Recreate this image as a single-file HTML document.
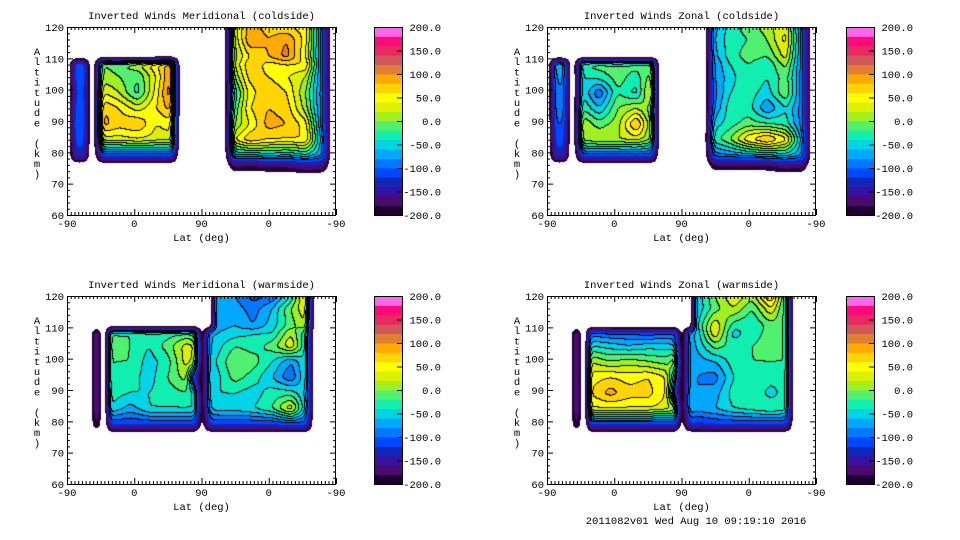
<!DOCTYPE html>
<html><head><meta charset="utf-8">
<style>
html,body{margin:0;padding:0;background:#fff;}
#wrap{position:relative;width:960px;height:540px;overflow:hidden;background:#fff;}
canvas{position:absolute;}
svg{position:absolute;left:0;top:0;}
text{font-family:"Liberation Mono","DejaVu Sans Mono",monospace;font-size:10.5px;fill:#000;}
</style></head>
<body>
<div id="wrap">
<canvas id="c0" width="269" height="188" style="left:67px;top:27px"></canvas>
<canvas id="c1" width="269" height="188" style="left:547px;top:27px"></canvas>
<canvas id="c2" width="269" height="188" style="left:67px;top:296px"></canvas>
<canvas id="c3" width="269" height="188" style="left:547px;top:296px"></canvas>
<svg id="axes" width="960" height="540"></svg>
</div>
<script>
const N = null;
const ALTS = [120,116,110.5,108,104,99,94,89,84,79,76,72];
const COLS_TOP = [2,12,22,32,36,48,70,95,120,140,150,211,224,245,270,295,320,342,354];
const COLS_BOT = [30,40,48,52,58,85,110,135,160,172,180,192,200,225,250,275,300,320,330];
const BAND_COLORS = ["#1e0030","#4c0a6e","#3a10a0","#1426b4","#0048ff","#0078ff","#00a8ff","#00d4e6","#10eeb0","#50f070","#a0f020","#dcf000","#ffff00","#ffd400","#ffaa00","#e08030","#d05858","#e82a62","#ff0a78","#ff66f0"];
const CBAR_LABELS = ["200.0","150.0","100.0","50.0","0.0","-50.0","-100.0","-150.0","-200.0"];
const Y_TICKS = [120,110,100,90,80,70,60];
const X_TICK_LABELS = ["-90","0","90","0","-90"];

const merCold = [
[N,N,N,N,N,N,N,N,N,N,N,N, 30,90,70,60,50,-90,N],
[N,N,N,N,N,N,N,N,N,N,N,N, 20,100,80,100,50,-90,N],
[N,N,N,N,N,N,N,N,N,N,N,N, 10,60,80,110,40,-90,N],
[N,-100,-100,N,N,0,-10,20,60,100,N,N, 20,80,50,60,60,-90,N],
[N,-110,-100,N,N,10,0,-20,40,110,N,N, 0,70,60,40,20,-90,N],
[N,-120,-110,N,N,40,20,-30,50,120,N,N, -40,50,80,60,0,-90,N],
[N,-110,-100,N,N,80,60,30,60,90,N,N, -20,60,80,70,10,-90,N],
[N,-100,-100,N,N,90,70,80,40,50,N,N, 0,40,90,80,50,-90,N],
[N,-110,-110,N,N,30,30,40,30,30,N,N, 40,80,60,60,60,-70,N],
[N,-130,-130,N,N,-110,-110,-110,-110,-110,N,N, -60,-60,-50,-60,-40,-80,N],
[N,N,N,N,N,N,N,N,N,N,N,N, -170,-180,-170,-170,-150,-160,N],
[N,N,N,N,N,N,N,N,N,N,N,N, N,N,N,N,N,N,N]];

const zonCold = [
[N,N,N,N,N,N,N,N,N,N,N,N, -70,-30,-10,10,40,-90,N],
[N,N,N,N,N,N,N,N,N,N,N,N, -60,-30,-20,0,50,-90,N],
[N,N,N,N,N,N,N,N,N,N,N,N, -70,-30,-10,-20,30,-90,N],
[N,-60,-60,N,N,-20,-10,-20,-10,-10,N,N, -80,-40,-20,-40,10,-90,N],
[N,-80,-70,N,N,-40,-30,-10,-30,10,N,N, -80,-50,-20,-40,-10,-90,N],
[N,-90,-80,N,N,-40,-100,-20,-50,40,N,N, -90,-40,-30,-50,0,-90,N],
[N,-90,-80,N,N,-20,-60,0,20,-10,N,N, -80,-30,-30,-80,-40,-90,N],
[N,-100,-100,N,N,20,-10,10,90,0,N,N, -50,-30,-10,-20,-30,-90,N],
[N,-110,-110,N,N,10,20,20,30,0,N,N, -30,0,60,90,50,-70,N],
[N,-130,-130,N,N,-110,-110,-110,-110,-110,N,N, -90,-80,-70,-60,-50,-80,N],
[N,N,N,N,N,N,N,N,N,N,N,N, -180,-180,-180,-180,-160,-170,N],
[N,N,N,N,N,N,N,N,N,N,N,N, N,N,N,N,N,N,N]];

const merWarm = [
[N,N,N,N,N,N,N,N,N,N,N,N, -60,-80,-110,-100,-40,60,N],
[N,N,N,N,N,N,N,N,N,N,N,N, -60,-70,-90,-60,0,40,N],
[N,N,N,N,N,N,N,N,N,N,N,N, -70,-60,-80,-50,-10,20,N],
[N,-150,N,N,-20,-20,-30,-30,-20,-30,N,-60, -60,-50,-40,-40,20,-40,N],
[N,-150,N,N,-10,-20,-40,-10,30,20,N,-60, -50,-20,-30,-10,40,-40,N],
[N,-150,N,N,-20,-20,-50,-30,30,10,N,-50, -40,0,-10,-40,-80,-40,N],
[N,-150,N,N,-20,-30,-50,-20,10,-150,N,-40, -50,-10,-30,-60,-100,-40,N],
[N,-150,N,N,-30,-40,-40,-30,-20,-50,N,-50, -40,-40,-50,-30,-30,-60,N],
[N,-150,N,N,-40,-70,-40,-40,-40,-40,N,-60, -50,-50,-40,-20,40,-60,N],
[N,-170,N,N,-120,-120,-120,-120,-120,-120,N,-120, -120,-120,-120,-120,-110,-110,N],
[N,N,N,N,N,N,N,N,N,N,N,N, N,N,N,N,N,N,N],
[N,N,N,N,N,N,N,N,N,N,N,N, N,N,N,N,N,N,N]];

const zonWarm = [
[N,N,N,N,N,N,N,N,N,N,N,N, -60,0,40,10,90,-30,N],
[N,N,N,N,N,N,N,N,N,N,N,N, -60,-10,20,-20,40,-30,N],
[N,N,N,N,N,N,N,N,N,N,N,N, -50,40,-30,-40,-10,-20,N],
[N,-150,N,N,-90,-100,-100,-110,-100,-100,N,-60, -60,40,-50,-30,-10,-20,N],
[N,-150,N,N,-40,-50,-60,-50,-50,-60,N,-70, -60,-10,-30,-20,-10,-20,N],
[N,-150,N,N,20,0,10,0,-10,20,N,-70, -70,-60,-30,-20,-20,-20,N],
[N,-150,N,N,50,60,50,60,40,-60,N,-70, -80,-90,-40,-30,-30,-30,N],
[N,-150,N,N,60,90,70,70,40,-120,N,-60, -80,-70,-30,-20,-50,-30,N],
[N,-150,N,N,40,40,40,40,30,20,N,-60, -70,-60,-40,-30,-20,-30,N],
[N,-170,N,N,-120,-120,-120,-120,-120,-120,N,-120, -130,-120,-120,-120,-120,-120,N],
[N,N,N,N,N,N,N,N,N,N,N,N, N,N,N,N,N,N,N],
[N,N,N,N,N,N,N,N,N,N,N,N, N,N,N,N,N,N,N]];

const NULLV = -225;
function seg(arr, v, desc){
  const n=arr.length;
  for(let i=0;i<n-1;i++){
    const a=arr[i], b=arr[i+1];
    if(desc ? (v<=a && v>=b) : (v>=a && v<=b)) return [i,(v-a)/(b-a)];
  }
  return desc ? (v>arr[0]?[0,0]:[n-2,1]) : (v<arr[0]?[0,0]:[n-2,1]);
}
function g(grid,j,i){const v=grid[j][i];return v===null?NULLV:v;}
function valueAt(cols,grid,pos,alt){
  if(alt<ALTS[ALTS.length-1]) return NULLV;
  const [j,t]=seg(ALTS,alt,true);
  const [i,s]=seg(cols,pos,false);
  const a=g(grid,j,i)*(1-s)+g(grid,j,i+1)*s;
  const b=g(grid,j+1,i)*(1-s)+g(grid,j+1,i+1)*s;
  return a*(1-t)+b*t;
}
function blur(f,W,H,r){
  const o=new Float32Array(W*H);
  for(let y=0;y<H;y++)for(let x=0;x<W;x++){
    let s=0,c=0;for(let k=-r;k<=r;k++){const xx=x+k;if(xx>=0&&xx<W){s+=f[y*W+xx];c++;}}
    o[y*W+x]=s/c;}
  const o2=new Float32Array(W*H);
  for(let y=0;y<H;y++)for(let x=0;x<W;x++){
    let s=0,c=0;for(let k=-r;k<=r;k++){const yy=y+k;if(yy>=0&&yy<H){s+=o[yy*W+x];c++;}}
    o2[y*W+x]=s/c;}
  return o2;
}
function hex(c){return [parseInt(c.substr(1,2),16),parseInt(c.substr(3,2),16),parseInt(c.substr(5,2),16)];}
const RGB = BAND_COLORS.map(hex);
function drawPanel(id,cols,grid){
  const cv=document.getElementById(id), ctx=cv.getContext('2d');
  const W=cv.width,H=cv.height;
  let f=new Float32Array(W*H);
  for(let y=0;y<H;y++)for(let x=0;x<W;x++){
    const pos=(x+0.5)*360/W, alt=120-(y+0.5)*60/H;
    f[y*W+x]=valueAt(cols,grid,pos,alt);
  }
  f=blur(blur(f,W,H,2),W,H,2);
  const band=new Int16Array(W*H);
  for(let k=0;k<W*H;k++){const v=f[k];band[k]= v<-200 ? -1 : Math.max(0,Math.min(19,Math.floor((v+200)/20)));}
  const img=ctx.createImageData(W,H);
  for(let y=0;y<H;y++)for(let x=0;x<W;x++){
    const k=y*W+x, b=band[k]; let c;
    if(b<0) c=[255,255,255];
    else {
      const r=x<W-1?band[k+1]:b, d=y<H-1?band[k+W]:b;
      const lr=(r>=0&&r!==b&&Math.min(r,b)>=4), ld=(d>=0&&d!==b&&Math.min(d,b)>=4);
      if(lr||ld) c=[0,0,0]; else c=RGB[b];
    }
    img.data[k*4]=c[0];img.data[k*4+1]=c[1];img.data[k*4+2]=c[2];img.data[k*4+3]=255;
  }
  ctx.putImageData(img,0,0);
}
drawPanel('c0',COLS_TOP,merCold);
drawPanel('c1',COLS_TOP,zonCold);
drawPanel('c2',COLS_BOT,merWarm);
drawPanel('c3',COLS_BOT,zonWarm);

const svg=document.getElementById('axes');
const NS='http://www.w3.org/2000/svg';
function mk(tag,attrs){const e=document.createElementNS(NS,tag);for(const k in attrs)e.setAttribute(k,attrs[k]);svg.appendChild(e);return e;}
function txt(x,y,s,anchor){const t=mk('text',{x:x,y:y,'text-anchor':anchor||'start'});t.textContent=s;return t;}

const PANELS=[
 {x:67,y:27,cb:374,title:"Inverted Winds Meridional (coldside)",key:"meridional-coldside"},
 {x:547,y:27,cb:846,title:"Inverted Winds Zonal (coldside)",key:"zonal-coldside"},
 {x:67,y:296,cb:374,title:"Inverted Winds Meridional (warmside)",key:"meridional-warmside"},
 {x:547,y:296,cb:846,title:"Inverted Winds Zonal (warmside)",key:"zonal-warmside"}];
const PW=269,PH=188;
PANELS.forEach(p=>{
  const fr=mk('rect',{x:p.x+0.5,y:p.y+0.5,width:PW-1,height:PH,fill:'none',stroke:'#000','stroke-width':1});
  
  
  let d='';
  for(let a=60;a<=120;a+=2){
    const yy=p.y+PH-(a-60)*PH/60+0.5, L=(a%10===0)?6:3;
    d+=`M${p.x} ${yy}h${L}M${p.x+PW} ${yy}h${-L}`;
  }
  for(let q=0;q<=360;q+=5){
    const xx=p.x+q*PW/360+0.5, L=(q%90===0)?6:3;
    d+=`M${xx} ${p.y+PH}v${-L}M${xx} ${p.y}v${L}`;
  }
  const tk=mk('path',{d:d,stroke:'#000','stroke-width':1,fill:'none'});
  
  
  Y_TICKS.forEach(v=>{
    const t=txt(p.x-3,p.y+PH-(v-60)*PH/60+4,String(v),'end');
    
    
  });
  X_TICK_LABELS.forEach((s,i)=>{
    const t=txt(p.x+i*PW/4,p.y+PH+12,s,'middle');
    
    
  });
  const ti=txt(p.x+PW/2,p.y-8,p.title,'middle');
  
  
  const xl=txt(p.x+PW/2,p.y+PH+26,"Lat (deg)",'middle');
  
  
  const ylab="Altitude (km)";
  for(let i=0;i<ylab.length;i++){
    const t=txt(p.x-30,p.y+28+i*10.2,ylab[i],'middle');
    
    
  }
  const bh=PH/BAND_COLORS.length;
  BAND_COLORS.forEach((c,i)=>{
    const r=mk('rect',{x:p.cb,y:p.y+PH-(i+1)*bh,width:28,height:bh+0.4,fill:c});
    
    
  });
  const cbf=mk('rect',{x:p.cb+0.5,y:p.y+0.5,width:28,height:PH,fill:'none',stroke:'#000'});
  
  
  let cd='';
  CBAR_LABELS.forEach((s,i)=>{
    const yy=p.y+i*PH/8;
    cd+=`M${p.cb+28} ${yy+0.5}h-5`;
    const t=txt(p.cb+67,yy+4,s,'end');
    
    
  });
  const cbt=mk('path',{d:cd,stroke:'#000',fill:'none'});
  
  
});
const ft=txt(696,524,"2011082v01 Wed Aug 10 09:19:10 2016",'middle');


</script>
</body></html>
